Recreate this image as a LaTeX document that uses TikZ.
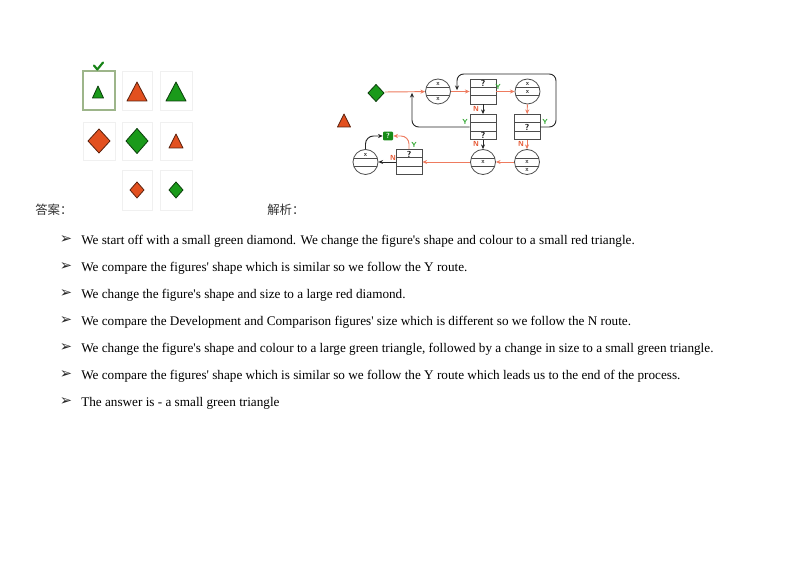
\documentclass[tikz,border=0pt]{standalone}
\usepackage{fontspec}
\setmainfont{Liberation Serif}[Ligatures=TeXOff]
\newfontfamily\cjk{Noto Sans CJK SC}
\newfontfamily\dvs{DejaVu Sans}
\usetikzlibrary{arrows.meta}
\definecolor{fred}{HTML}{E2501F}
\definecolor{fgreen}{HTML}{1A9A1A}
\definecolor{arrowor}{HTML}{EE7B5F}
\definecolor{lblg}{HTML}{2EA62E}
\definecolor{lblr}{HTML}{E5502A}
\definecolor{selc}{HTML}{9DB58A}
\tikzset{
  redshape/.style={fill=fred, draw=black!60!fred, line width=0.6pt, line join=round},
  greenshape/.style={fill=fgreen, draw=black!60!fgreen, line width=0.6pt, line join=round},
  cell/.style={draw=black!6, line width=0.5pt},
  circ/.style={circle, draw=black!70, line width=0.6pt, minimum size=18.75pt, inner sep=0pt, fill=white,
    path picture={\draw[black!70,line width=0.5pt]
      ([yshift=3pt]path picture bounding box.west) -- ([yshift=3pt]path picture bounding box.east)
      ([yshift=-3pt]path picture bounding box.west) -- ([yshift=-3pt]path picture bounding box.east);}},
  qbox/.style={rectangle, draw=black!70, line width=0.6pt, minimum width=19.5pt, minimum height=18.75pt, inner sep=0pt, fill=white,
    path picture={\draw[black!70,line width=0.5pt]
      ([yshift=3.125pt]path picture bounding box.west) -- ([yshift=3.125pt]path picture bounding box.east)
      ([yshift=-3.125pt]path picture bounding box.west) -- ([yshift=-3.125pt]path picture bounding box.east);}},
  xl/.style={font=\fontsize{5}{5}\selectfont\sffamily\bfseries, inner sep=0pt, text=black!80},
  ql/.style={font=\fontsize{6.5}{6.5}\selectfont\sffamily\bfseries, inner sep=0pt},
  ylab/.style={font=\fontsize{5.5}{5.5}\selectfont\sffamily\bfseries, text=lblg, inner sep=0pt},
  nlab/.style={font=\fontsize{5.5}{5.5}\selectfont\sffamily\bfseries, text=lblr, inner sep=0pt},
  oarr/.style={draw=arrowor, line width=0.7pt, -{Stealth[length=3.5pt,width=3pt]}},
  karr/.style={draw=black!85, line width=0.7pt, -{Stealth[length=3.5pt,width=3pt]}},
  txt/.style={anchor=base west, inner sep=0pt, font=\fontsize{9.9}{12}\selectfont},
  bul/.style={anchor=center, inner sep=0pt, font=\dvs\fontsize{11}{12}\selectfont, text=black!85},
  cjkl/.style={anchor=base west, inner sep=0pt, font=\cjk\fontsize{9.3}{11}\selectfont, text=black!80}
}
\begin{document}
\begin{tikzpicture}[x=0.75pt,y=-0.75pt]
\useasboundingbox[fill=white] (0,0) rectangle (800,566);

% ---- option grid ----
\draw[cell] (122,71) rectangle (152,110);
\draw[cell] (160,71) rectangle (192,110);
\draw[cell] (83,122) rectangle (115,160);
\draw[cell] (122,122) rectangle (152,160);
\draw[cell] (160,122) rectangle (192,160);
\draw[cell] (122,170) rectangle (152,210);
\draw[cell] (160,170) rectangle (192,210);
\draw[selc, line width=0.8pt] (83,71) rectangle (115,110);
% check mark
\draw[fgreen!85!black, line width=1.6pt, line cap=round, line join=round] (94,65.5) -- (97.3,69.5) -- (103,62.5);
% row 1
\path[greenshape] (98,86) -- (103.5,98) -- (92.5,98) -- cycle;
\path[redshape] (137,82) -- (147,101) -- (127,101) -- cycle;
\path[greenshape] (176,82) -- (186,101) -- (166,101) -- cycle;
% row 2
\path[redshape] (99,129) -- (110,141) -- (99,153) -- (88,141) -- cycle;
\path[greenshape] (137,128.5) -- (148,141) -- (137,153.5) -- (126,141) -- cycle;
\path[redshape] (176,134) -- (183,148) -- (169,148) -- cycle;
% row 3
\path[redshape] (137,182) -- (144,190) -- (137,198) -- (130,190) -- cycle;
\path[greenshape] (176,182) -- (183,190) -- (176,198) -- (169,190) -- cycle;

% ---- flowchart ----
\path[greenshape] (376,84.5) -- (384,93) -- (376,101.5) -- (368,93) -- cycle;
\coordinate (dia) at (385,92);
\path[redshape] (344,114) -- (350.5,127) -- (337.5,127) -- cycle;

\node[circ] (c1) at (438,91.5) {};
\node[qbox] (b1) at (483,91.5) {};
\node[circ] (c2) at (527.5,91.5) {};
\node[qbox] (b2) at (527,127) {};
\node[qbox] (b3) at (483,127) {};
\node[circ] (c3) at (483,162) {};
\node[circ] (c4) at (527,162) {};
\node[qbox] (b4) at (409,162) {};
\node[circ] (c5) at (365.5,162) {};
\node[rectangle, fill=fgreen!90!black, rounded corners=0.8pt, minimum width=7.5pt, minimum height=6.5pt, inner sep=0pt,
  font=\fontsize{5.5}{5.5}\selectfont\sffamily\bfseries, text=white] (q) at (388,136) {?};

% circle marks
\node[xl] (c1a) at (438,84) {x};
\node[xl] (c1b) at (438,99) {x};
\node[xl] (c2a) at (527.5,83.5) {x};
\node[xl] (c2b) at (527.5,91.5) {x};
\node[xl] (c3a) at (483,162) {x};
\node[xl] (c4a) at (527,162) {x};
\node[xl] (c4b) at (527,170) {x};
\node[xl] (c5a) at (365.5,154.5) {x};
% box marks
\node[ql] (b1q) at (483,83.5) {?};
\node[ql] (b2q) at (527,127.5) {?};
\node[ql] (b3q) at (483,135.5) {?};
\node[ql] (b4q) at (409,154) {?};

% connectors
\coordinate (j1) at (457,91.5);
\coordinate (j2) at (412,91.5);
\draw[oarr] (dia) -- (c1);
\draw[oarr] (c1) -- (b1);
\draw[oarr] (b1) -- (c2);
\draw[oarr] (c2) -- (b2);
\draw[karr] (b1) -- (b3);
\draw[karr] (b3) -- (c3);
\draw[oarr] (b2) -- (c4);
\draw[oarr] (c4) -- (c3);
\draw[oarr] (c3) -- (b4);
\draw[karr] (b4) -- (c5);
\draw[karr, rounded corners=5pt] (b2.east) -- (556,127) -- (556,74) -- (457,74) -- ([yshift=1pt]j1);
\draw[karr, rounded corners=5pt] (b3.west) -- (412,127) -- ([yshift=-1pt]j2);
\draw[karr, rounded corners=6pt] (c5.north) |- (q.west);
\draw[oarr, rounded corners=6pt] (b4.north) |- (q.east);

% Y / N labels
\node[ylab] (y1) at (498,87) {Y};
\node[nlab] (n1) at (476,108.5) {N};
\node[ylab] (y2) at (545,122) {Y};
\node[ylab] (y3) at (465,122) {Y};
\node[nlab] (n2) at (476,144) {N};
\node[nlab] (n3) at (521,144) {N};
\node[nlab] (n4) at (393,158) {N};
\node[ylab] (y4) at (414,145) {Y};

% ---- text ----
\node[cjkl] (ans) at (35,215) {答案：};
\node[cjkl] (exp) at (267,215) {解析：};

\node[bul] (p1) at (66,240) {➢};
\node[txt] (t1) at (81,245) {We start off with a small green diamond. We change the figure's shape and colour to a small red triangle.};
\node[bul] (p2) at (66,267) {➢};
\node[txt] (t2) at (81,272) {We compare the figures' shape which is similar so we follow the Y route.};
\node[bul] (p3) at (66,294) {➢};
\node[txt] (t3) at (81,299) {We change the figure's shape and size to a large red diamond.};
\node[bul] (p4) at (66,321) {➢};
\node[txt] (t4) at (81,326) {We compare the Development and Comparison figures' size which is different so we follow the N route.};
\node[bul] (p5) at (66,348) {➢};
\node[txt] (t5) at (81,353) {We change the figure's shape and colour to a large green triangle, followed by a change in size to a small green triangle.};
\node[bul] (p6) at (66,375) {➢};
\node[txt] (t6) at (81,380) {We compare the figures' shape which is similar so we follow the Y route which leads us to the end of the process.};
\node[bul] (p7) at (66,402) {➢};
\node[txt] (t7) at (81,407) {The answer is - a small green triangle};
\end{tikzpicture}
\end{document}
